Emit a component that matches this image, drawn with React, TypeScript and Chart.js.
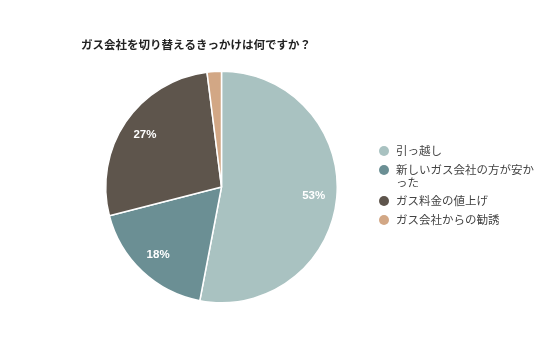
import React, { useEffect, useRef } from "react";
import { Chart, registerables } from "chart.js";

Chart.register(...registerables);

const titleText = "ガス会社を切り替えるきっかけは何ですか？";
const categories = ["引っ越し", "新しいガス会社の方が安かった", "ガス料金の値上げ", "ガス会社からの勧誘"];
const values = [53, 18, 27, 2];
const colors = ["#a9c2c1", "#6b8f94", "#5e554c", "#d2a785"];

const JP = "'Noto Sans CJK JP', 'Noto Sans', sans-serif";

function wrapText(ctx: CanvasRenderingContext2D, text: string, maxW: number): string[] {
  const lines: string[] = [];
  let cur = "";
  for (const ch of Array.from(text)) {
    if (ctx.measureText(cur + ch).width > maxW && cur) {
      lines.push(cur);
      cur = ch;
    } else cur += ch;
  }
  if (cur) lines.push(cur);
  return lines;
}

const decorPlugin = {
  id: "decor",
  afterDraw(chart: any) {
    const ctx: CanvasRenderingContext2D = chart.ctx;
    ctx.save();
    // title
    ctx.fillStyle = "#222";
    ctx.font = `bold 11.5px ${JP}`;
    ctx.textBaseline = "middle";
    ctx.textAlign = "left";
    ctx.fillText(titleText, 81, 45);

    // slice labels
    const meta = chart.getDatasetMeta(0);
    const total = values.reduce((a, b) => a + b, 0);
    ctx.font = `bold 11.5px 'Liberation Sans', Arial, sans-serif`;
    ctx.fillStyle = "#ffffff";
    ctx.textAlign = "center";
    meta.data.forEach((arc: any, i: number) => {
      const pct = Math.round((values[i] / total) * 100);
      if (pct < 5) return;
      const p = arc.getProps(["x", "y", "startAngle", "endAngle", "outerRadius"], true);
      const mid = (p.startAngle + p.endAngle) / 2;
      const r = p.outerRadius * 0.8;
      ctx.fillText(pct + "%", p.x + Math.cos(mid) * r, p.y + Math.sin(mid) * r);
    });

    // legend
    ctx.font = `11.5px ${JP}`;
    ctx.textAlign = "left";
    let y = 151;
    categories.forEach((c, i) => {
      ctx.fillStyle = colors[i];
      ctx.beginPath();
      ctx.arc(384, y, 5, 0, Math.PI * 2);
      ctx.fill();
      ctx.fillStyle = "#444";
      const lines = wrapText(ctx, c, 138);
      lines.forEach((ln, k) => ctx.fillText(ln, 396, y + k * 13));
      y += 19 + (lines.length - 1) * 12;
    });
    ctx.restore();
  },
};

export default function App() {
  const ref = useRef<HTMLCanvasElement>(null);
  useEffect(() => {
    document.body.style.margin = "0";
    const chart = new Chart(ref.current!, {
      type: "pie",
      data: {
        labels: categories,
        datasets: [
          {
            data: values,
            backgroundColor: colors,
            borderColor: "#ffffff",
            borderWidth: 1.5,
          },
        ],
      },
      options: {
        animation: false,
        responsive: false,
        layout: { padding: { left: 105, top: 70, right: 198, bottom: 53 } },
        plugins: { legend: { display: false }, title: { display: false }, tooltip: { enabled: false } },
      },
      plugins: [decorPlugin],
    });
    return () => chart.destroy();
  }, []);
  return <canvas ref={ref} width={536} height={357} style={{ display: "block" }} />;
}
